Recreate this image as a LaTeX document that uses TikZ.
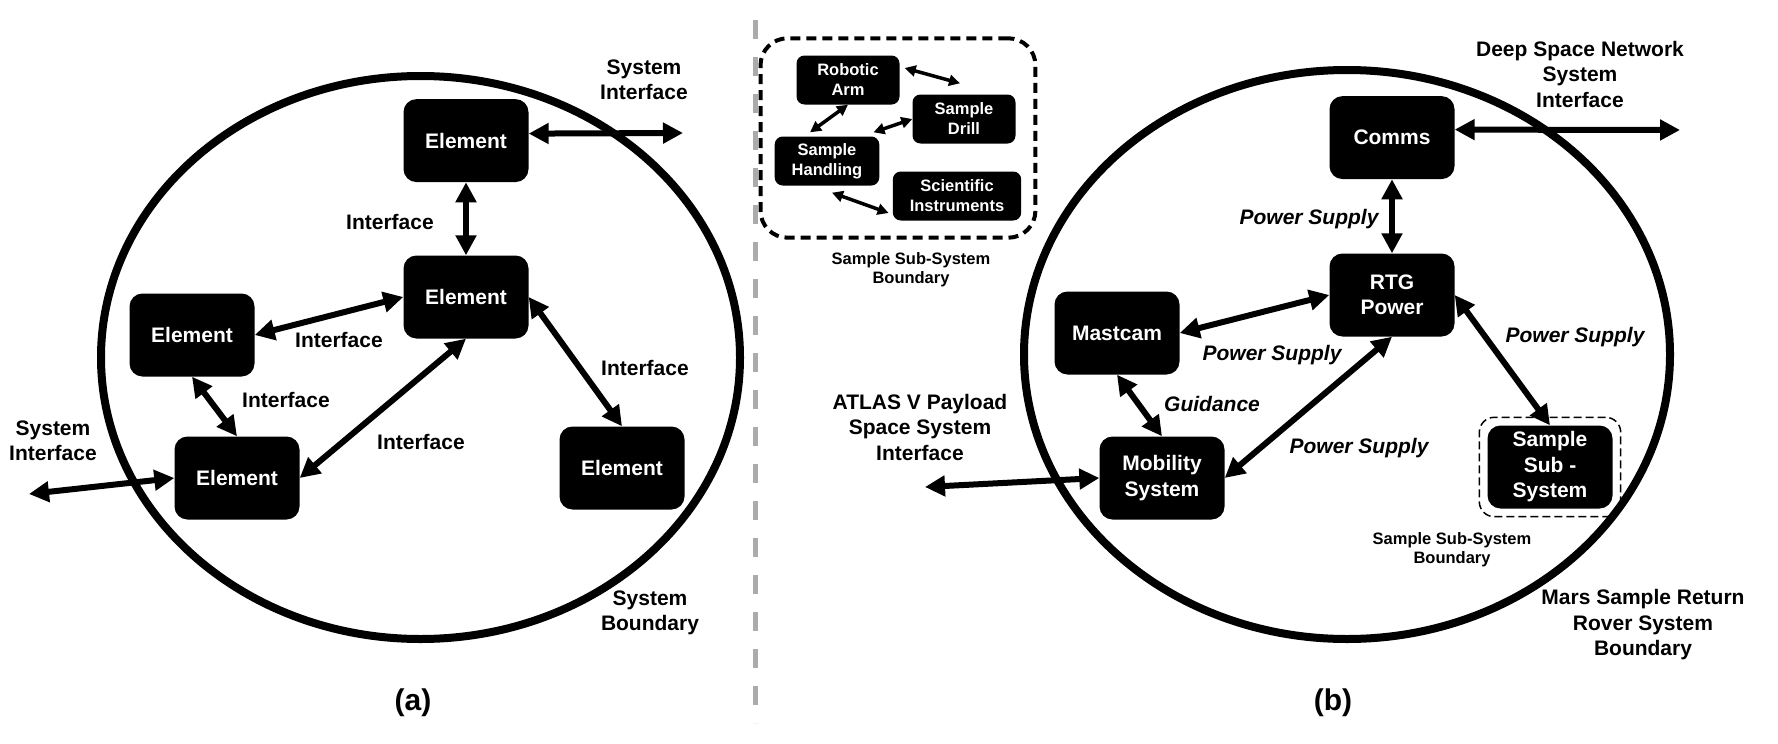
\documentclass[tikz,border=0pt]{standalone}
\usepackage{fontspec}
\setmainfont{Liberation Sans}
\usetikzlibrary{arrows.meta,fit,positioning,shapes.geometric}
\definecolor{divgray}{HTML}{ABABAB}

\begin{document}
\begin{tikzpicture}[x=1pt,y=-1pt]
 	\tikzstyle{elem}=[rectangle, rounded corners=13pt, fill=black, text=white, font=\fontsize{21}{25.5}\selectfont\bfseries, align=center, minimum width=125pt, minimum height=83pt, inner sep=0pt]
 	\tikzstyle{subbox}=[rectangle, rounded corners=8pt, fill=black, text=white, font=\fontsize{16.5}{20}\selectfont\bfseries, align=center, minimum width=103pt, minimum height=49pt, inner xsep=17pt, inner ysep=0pt]
 	\tikzstyle{txt}=[align=center, font=\fontsize{21}{25.5}\selectfont\bfseries]
 	\tikzstyle{txtit}=[align=center, font=\fontsize{21}{25.5}\selectfont\bfseries\itshape]
 	\tikzstyle{txtsm}=[align=center, font=\fontsize{16.5}{19}\selectfont\bfseries]
 	\tikzstyle{caption}=[font=\fontsize{30}{34}\selectfont\bfseries]
 	\tikzstyle{bound}=[ellipse, draw, line width=8pt, inner sep=0pt]
 	\tikzstyle{connect}=[>={Triangle[length=20pt,width=20pt]}, <->, line width=6pt]
 	\tikzstyle{connectsm}=[>={Triangle[length=11pt,width=11pt]}, <->, line width=3.5pt]
 	\useasboundingbox (0,0) rectangle (1778,744);
 	\draw[divgray, line width=5pt, dash pattern=on 19pt off 18pt] (755,20) -- (755,723);
 	\node[bound, minimum width=639pt, minimum height=563pt] (bounda) at (420.5,357.5) {};
 	\node[bound, minimum width=646pt, minimum height=569pt] (boundb) at (1347,354.5) {};
 	\node[elem] (el2) at (466,297) {Element};
 	\node[elem] (el1) [above=73pt of el2] {Element};
 	\node[elem] (el3) at (192,335) {Element};
 	\node[elem] (el4) at (237,478) {Element};
 	\node[elem] (el5) at (622,468) {Element};
 	\coordinate (sysa) at (683,133);
 	\coordinate (sysb) at (29,494);
 	\node[elem] (rtg) at (1392,295) {RTG\\Power};
 	\node[elem] (comms) [above=74pt of rtg] {Comms};
 	\node[elem] (mastcam) at (1117,333) {Mastcam};
 	\node[elem] (mobility) at (1162,478) {Mobility\\System};
 	\node[elem] (sss) at (1550,467) {Sample\\Sub -\\System};
 	\coordinate (dsnend) at (1680,130);
 	\coordinate (atlasend) at (925,487);
 	\node[subbox] (arm) at (848,80) {Robotic\\Arm};
 	\node[subbox] (drill) at (964,119) {Sample\\Drill};
 	\node[subbox] (handling) at (827,161) {Sample\\Handling};
 	\node[subbox] (sci) at (957,196) {Scientific\\Instruments};
 	\node[rectangle, rounded corners=27pt, draw, line width=4pt, dash pattern=on 10pt off 6pt, inner xsep=14pt, inner ysep=17pt, fit=(arm) (drill) (handling) (sci)] (ssbox) {};
 	\node[rectangle, rounded corners=15pt, draw, line width=1.5pt, dash pattern=on 8pt off 4pt, inner sep=8pt, fit=(sss)] (sssbox) {};
 	\path (el1.south) edge [connect] (el2.north)
 	(el2.west) edge [connect] (el3.east)
 	(el3.south) edge [connect] (el4.north)
 	(el2.south) edge [connect] (el4.east)
 	(el2.east) edge [connect] (el5.north)
 	([yshift=7pt]el1.east) edge [connect] (sysa)
 	(el4.west) edge [connect] (sysb);
 	\path (comms.south) edge [connect] (rtg.north)
 	(rtg.west) edge [connect] (mastcam.east)
 	(mastcam.south) edge [connect] (mobility.north)
 	(rtg.south) edge [connect] (mobility.east)
 	(rtg.east) edge [connect] (sss.north)
 	([yshift=8pt]comms.east) edge [connect] (dsnend)
 	(mobility.west) edge [connect] (atlasend);
 	\path ([xshift=5pt,yshift=12pt]arm.east) edge [connectsm] ([xshift=-4pt,yshift=11pt]drill.north)
 	(arm.south) edge [connectsm] ([xshift=-17pt,yshift=4pt]handling.north)
 	(drill.west) edge [connectsm] ([xshift=-6pt,yshift=4pt]handling.north east)
 	([xshift=5pt,yshift=-7pt]handling.south) edge [connectsm] ([xshift=-4pt,yshift=-17pt]sci.west);
 	\node[txt] (sysalab) at (644,80) {System\\Interface};
 	\node[txt] (sysblab) at (53,441) {System\\Interface};
 	\node[txt] (ifa1) at (390,222) {Interface};
 	\node[txt] (ifa2) at (339,340) {Interface};
 	\node[txt] (ifa3) at (286,400) {Interface};
 	\node[txt] (ifa4) at (421,442) {Interface};
 	\node[txt] (ifa5) at (645,368) {Interface};
 	\node[txt] (boundalab) at (650,613) {System\\Boundary};
 	\node[caption] (capa) at (413,703) {(a)};
 	\node[txtsm] (sslab) at (911,270) {Sample Sub-System\\Boundary};
 	\node[txt] (dsnlab) at (1580,74) {Deep Space Network\\System\\Interface};
 	\node[txt] (atlaslab) at (920,427) {ATLAS V Payload\\Space System\\Interface};
 	\node[txtit] (ps1) at (1309,219) {Power Supply};
 	\node[txtit] (ps2) at (1272,355) {Power Supply};
 	\node[txtit] (ps3) at (1575,337) {Power Supply};
 	\node[txtit] (ps4) at (1359,448) {Power Supply};
 	\node[txtit] (guid) at (1212,404) {Guidance};
 	\node[txtsm] (sssblab) at (1452,550) {Sample Sub-System\\Boundary};
 	\node[txt] (boundblab) at (1643,625) {Mars Sample Return\\Rover System\\Boundary};
 	\node[caption] (capb) at (1333,703) {(b)};
\end{tikzpicture}
\end{document}
